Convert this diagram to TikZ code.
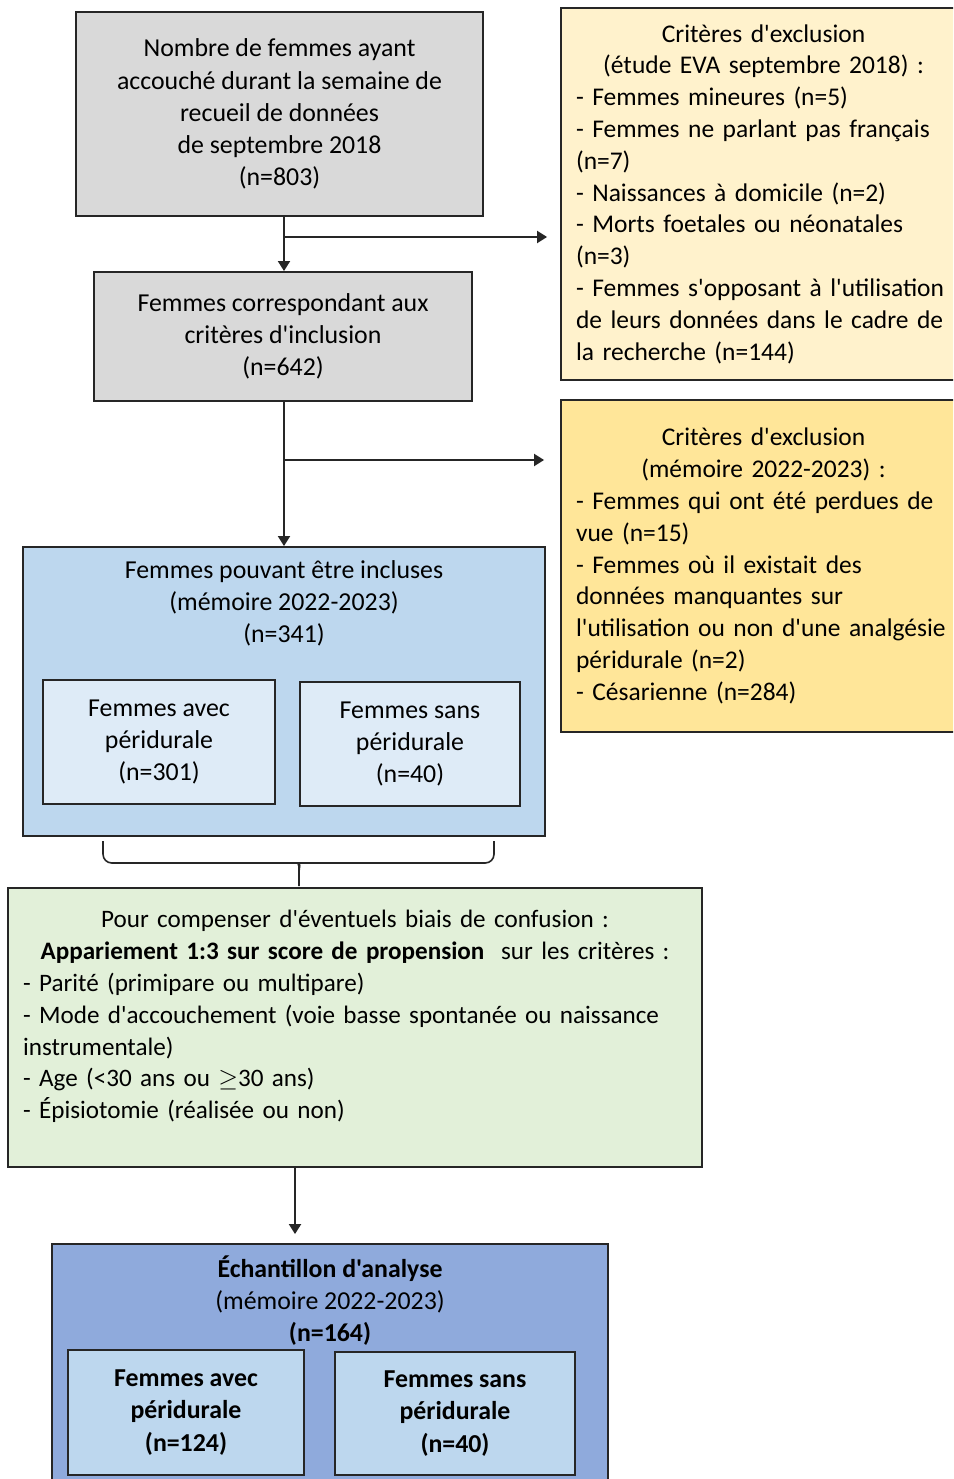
\documentclass[tikz,border=0pt]{standalone}
\usepackage{fontspec}
\setmainfont{Carlito}[Ligatures=TeXOff]
\usetikzlibrary{positioning,arrows.meta}
\setlength{\parindent}{0pt}

\definecolor{gris}{HTML}{D9D9D9}
\definecolor{jauneclair}{HTML}{FFF2CC}
\definecolor{jaune}{HTML}{FFE699}
\definecolor{bleuclair}{HTML}{DEEBF7}
\definecolor{bleu}{HTML}{BDD7EE}
\definecolor{bleufonce}{HTML}{8FAADC}
\definecolor{vert}{HTML}{E2F0D9}

\tikzset{
  cadre/.style={draw=black!85, line width=1.1pt, rectangle, inner sep=0pt,
    font=\fontsize{14.7}{18.3}\selectfont},
  box/.style={cadre, align=center},
  exclbox/.style={cadre, text width=7.5cm, inner xsep=0.3cm,
    font=\fontsize{14.5}{18.1}\selectfont},
  txt/.style={inner sep=0pt, font=\fontsize{14.7}{18.3}\selectfont},
  arr/.style={-{Triangle[length=0.2cm,width=0.24cm]}, line width=1.1pt, black!85},
}

\begin{document}
\begin{tikzpicture}[x=0.02cm, y=-0.02cm]
\useasboundingbox (0,0) rectangle (953,1479);
\clip (0,0) rectangle (953,1479);

% population de depart
\node[box, fill=gris, minimum width=8.14cm, minimum height=4.08cm] (depart) at (279.5,114)
  {Nombre de femmes ayant\\accouché durant la semaine de\\recueil de données\\de septembre 2018\\(n=803)};
\node[box, fill=gris, minimum width=7.56cm, minimum height=2.58cm] (inclusion) at (283,336.5)
  {Femmes correspondant aux\\critères d'inclusion\\(n=642)};

% exclusions
\node[exclbox, fill=jauneclair, minimum height=7.44cm] (exclEVA) at (763.5,194)
  {{\centering Critères d'exclusion\\(étude EVA septembre 2018) :\par}
   \raggedright
   - Femmes mineures (n=5)\\
   - Femmes ne parlant pas français\\
   (n=7)\\
   - Naissances à domicile (n=2)\\
   - Morts foetales ou néonatales\\
   (n=3)\\
   - Femmes s'opposant à l'utilisation\\
   de leurs données dans le cadre de\\
   la recherche (n=144)};
\node[exclbox, fill=jaune, minimum height=6.64cm] (exclMem) at (763.5,566)
  {{\centering Critères d'exclusion\\(mémoire 2022-2023) :\par}
   \raggedright
   - Femmes qui ont été perdues de\\
   vue (n=15)\\
   - Femmes où il existait des\\
   données manquantes sur\\
   l'utilisation ou non d'une analgésie\\
   péridurale (n=2)\\
   - Césarienne (n=284)};

% femmes incluables
\node[cadre, fill=bleu, minimum width=10.44cm, minimum height=5.78cm] (incluables) at (284,691.5) {};
\node[txt, align=center, anchor=north] (incluablesTxt) at (284,560)
  {Femmes pouvant être incluses\\(mémoire 2022-2023)\\(n=341)};
\node[box, fill=bleuclair, minimum width=4.64cm, minimum height=2.48cm] (avecPD) at (159,742)
  {Femmes avec\\péridurale\\(n=301)};
\node[box, fill=bleuclair, minimum width=4.4cm, minimum height=2.48cm] (sansPD) at (410,744)
  {Femmes sans\\péridurale\\(n=40)};

% appariement
\node[cadre, fill=vert, minimum width=13.88cm, minimum height=5.58cm] (appariement) at (355,1027.5) {};
\node[txt, text width=13.28cm, anchor=north, font=\fontsize{14.3}{18.1}\selectfont] (appariementTxt) at (355,910)
  {{\centering Pour compenser d'éventuels biais de confusion :\\
    \textbf{Appariement 1:3 sur score de propension}\ \ sur les critères :\par}
   \raggedright
   - Parité (primipare ou multipare)\\
   - Mode d'accouchement (voie basse spontanée ou naissance\\
   instrumentale)\\
   - Age (<30 ans ou $\geq$30 ans)\\
   - Épisiotomie (réalisée ou non)};

% echantillon final
\node[cadre, fill=bleufonce, minimum width=11.12cm, minimum height=5.02cm] (echantillon) at (330,1369.5) {};
\node[txt, align=center, anchor=north] (echantillonTxt) at (330,1255)
  {\textbf{Échantillon d'analyse}\\(mémoire 2022-2023)\\\textbf{(n=164)}};
\node[box, fill=bleu, minimum width=4.72cm, minimum height=2.5cm, font=\fontsize{14.7}{18.3}\selectfont\bfseries] (avecFin) at (186,1412.5)
  {Femmes avec\\péridurale\\(n=124)};
\node[box, fill=bleu, minimum width=4.8cm, minimum height=2.46cm, font=\fontsize{14.7}{18.3}\selectfont\bfseries] (sansFin) at (455,1413.5)
  {Femmes sans\\péridurale\\(n=40)};

% fleches
\coordinate (split1) at (284,237);
\coordinate (split2) at (284,460);
\draw[arr] (depart.south -| split1) -- (inclusion.north -| split1);
\draw[arr, shorten >=0.26cm] (split1) -- (split1 -| exclEVA.west);
\draw[arr] (inclusion.south -| split2) -- (incluables.north -| split2);
\draw[arr, shorten >=0.32cm] (split2) -- (split2 -| exclMem.west);
\draw[arr, shorten >=0.18cm] ([xshift=-1.2cm]appariement.south) -- ([xshift=-0.7cm]echantillon.north);

% accolade
\draw[line width=0.9pt, black!85, rounded corners=5pt] (103,841) |- (292,863) to[out=0,in=90] (299,872) -- (299,886);
\draw[line width=0.9pt, black!85, rounded corners=5pt] (494,841) |- (306,863) to[out=180,in=90] (299,872);
\end{tikzpicture}
\end{document}
